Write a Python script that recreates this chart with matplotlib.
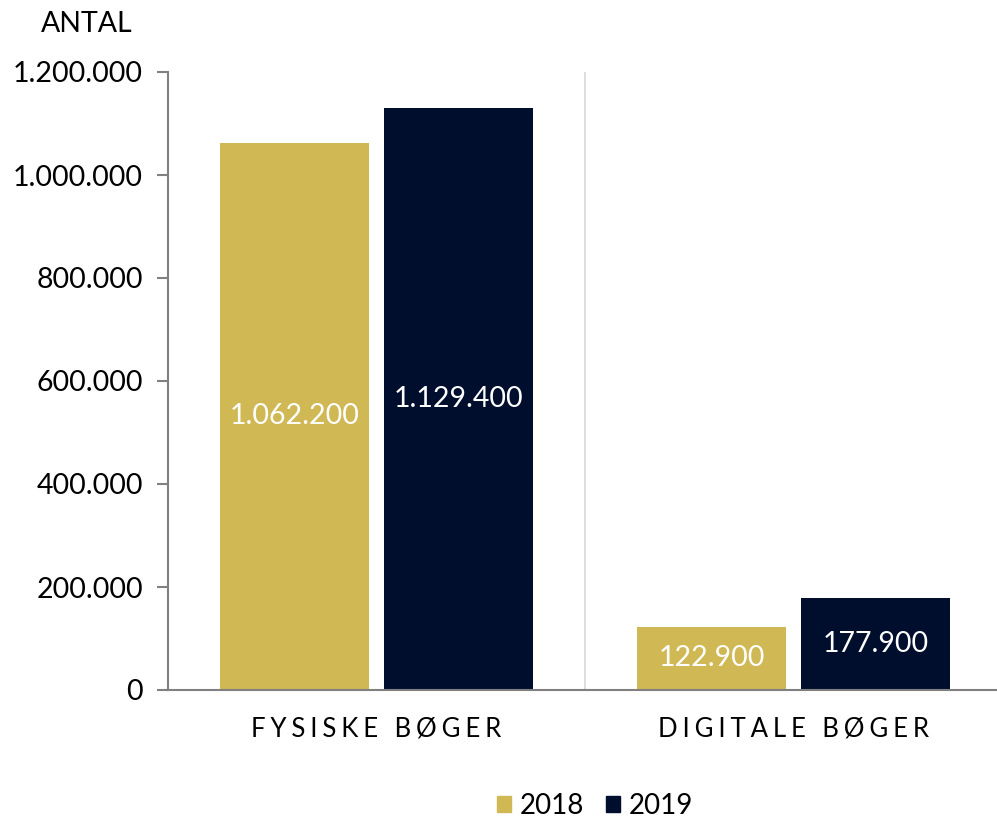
import matplotlib
matplotlib.use("Agg")
import matplotlib.pyplot as plt
import numpy as np
from matplotlib.patches import Patch

categories = ["FYSISKE BØGER", "DIGITALE BØGER"]
series_names = ["2018", "2019"]
values_2018 = [1062200, 122900]
values_2019 = [1129400, 177900]
y_ticks = [0, 200000, 400000, 600000, 800000, 1000000, 1200000]
y_tick_labels = ["0", "200.000", "400.000", "600.000", "800.000", "1.000.000", "1.200.000"]

gold = "#D0B855"
navy = "#000E2E"

plt.rcParams['font.family'] = ['Lato', 'DejaVu Sans']

def fmt(v):
    return f"{v:,}".replace(",", ".")

def spaced(s):
    return "\u2009\u200a".join(list(s))

fig = plt.figure(figsize=(9.97, 8.18), dpi=100)
ax = fig.add_axes([168/997, 128/818, 834/997, 618/818])

x = np.arange(len(categories))
w = 0.357
off = (w + 0.036) / 2
b1 = ax.bar(x - off, values_2018, w, color=gold, label=series_names[0])
b2 = ax.bar(x + off, values_2019, w, color=navy, label=series_names[1])

for bars, vals in ((b1, values_2018), (b2, values_2019)):
    for r, v in zip(bars, vals):
        ax.text(r.get_x() + r.get_width()/2, v/2, fmt(v), ha='center', va='center',
                color='white', fontsize=20.5)

ax.set_xlim(-0.5, 1.5)
ax.set_ylim(0, 1200000)
ax.set_yticks(y_ticks)
ax.set_yticklabels(y_tick_labels, fontsize=20.5)
ax.set_xticks(x)
ax.set_xticklabels([spaced(c) for c in categories], fontsize=18.5)
ax.tick_params(axis='x', length=0, pad=19)
ax.tick_params(axis='y', length=8, color='#808080', width=1.5, pad=10)

for s in ('top', 'right'):
    ax.spines[s].set_visible(False)
for s in ('left', 'bottom'):
    ax.spines[s].set_color('#808080')
    ax.spines[s].set_linewidth(1.5)
ax.axvline(0.5, color='#d9d9d9', lw=1.2)

ax.text(-0.152, 1.077, "ANTAL", transform=ax.transAxes, fontsize=20.5, ha='left', va='center')

handles = [Patch(color=gold), Patch(color=navy)]
fig.legend(handles, series_names, loc='center', bbox_to_anchor=(595/997, 1 - 806/818),
           ncol=2, frameon=False, fontsize=20, handlelength=0.5, handleheight=0.5,
           handletextpad=0.3, columnspacing=0.8)

fig.savefig("out.png", dpi=100)
